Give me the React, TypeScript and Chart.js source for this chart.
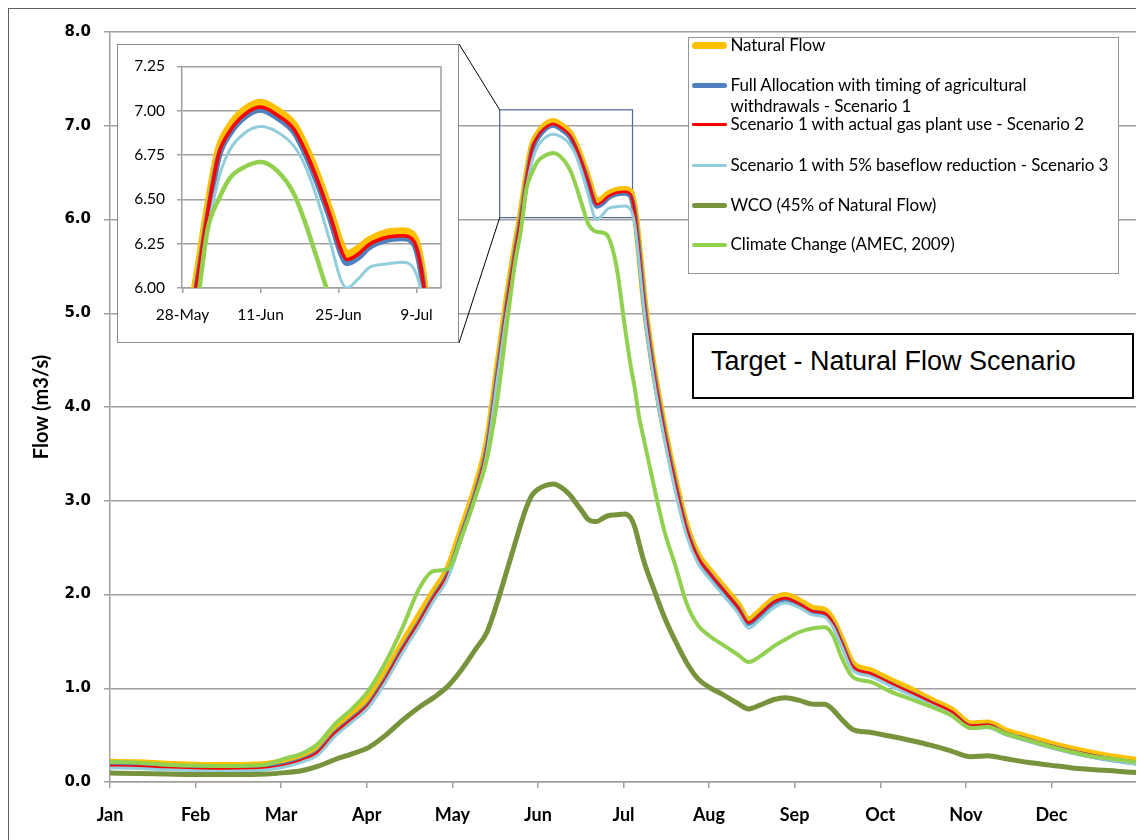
import React, { useEffect, useRef } from "react";
import { Chart, registerables } from "chart.js";

Chart.register(...registerables);

// ---------- DATA ----------
const DAYS = [
  0, 10, 20, 30, 40, 50, 56, 62, 68, 74,
  80, 86, 92, 98, 104, 110, 115, 120, 125, 130,
  134, 138, 141, 144, 146, 148, 150, 152, 154.5, 157.5,
  160.5, 163.5, 165.5, 167.5, 170, 172, 173, 175, 177, 180,
  183, 185, 186.5, 188, 190, 193, 197, 201, 205, 209,
  213, 218, 223, 227, 231, 236, 240, 245, 250, 254,
  257, 260, 264, 270, 277, 285, 292, 299, 306, 312,
  318, 326, 334, 342, 350, 358, 365,
];

const NATURAL = [
  0.21, 0.205, 0.19, 0.18, 0.175, 0.18, 0.19, 0.22, 0.27, 0.37,
  0.57, 0.72, 0.89, 1.16, 1.48, 1.78, 2.03, 2.27, 2.7, 3.15,
  3.62, 4.48, 5.13, 5.7, 6.05, 6.45, 6.78, 6.91, 7.0, 7.045,
  7.0, 6.92, 6.8, 6.65, 6.43, 6.24, 6.19, 6.22, 6.27, 6.31,
  6.32, 6.29, 6.1, 5.7, 5.1, 4.45, 3.77, 3.2, 2.72, 2.42,
  2.26, 2.08, 1.9, 1.73, 1.82, 1.95, 1.99, 1.93, 1.85, 1.83,
  1.72, 1.52, 1.26, 1.19, 1.09, 0.98, 0.87, 0.77, 0.62, 0.63,
  0.55, 0.48, 0.41, 0.35, 0.3, 0.26, 0.23,
];

const SCENARIO1 = [
  0.17, 0.165, 0.15, 0.14, 0.135, 0.14, 0.15, 0.18, 0.23, 0.32,
  0.52, 0.67, 0.83, 1.1, 1.42, 1.71, 1.97, 2.21, 2.64, 3.09,
  3.56, 4.42, 5.07, 5.65, 6.0, 6.4, 6.74, 6.87, 6.96, 7.005,
  6.96, 6.88, 6.76, 6.61, 6.39, 6.19, 6.14, 6.17, 6.23, 6.27,
  6.28, 6.25, 6.06, 5.66, 5.06, 4.41, 3.73, 3.16, 2.68, 2.38,
  2.22, 2.04, 1.86, 1.69, 1.78, 1.91, 1.95, 1.89, 1.81, 1.79,
  1.68, 1.48, 1.22, 1.15, 1.05, 0.94, 0.84, 0.74, 0.59, 0.6,
  0.52, 0.45, 0.38, 0.32, 0.27, 0.23, 0.2,
];

const SCENARIO2 = [
  0.17, 0.165, 0.15, 0.14, 0.135, 0.14, 0.15, 0.18, 0.23, 0.32,
  0.52, 0.67, 0.83, 1.1, 1.42, 1.71, 1.97, 2.21, 2.64, 3.09,
  3.57, 4.43, 5.08, 5.66, 6.01, 6.42, 6.755, 6.885, 6.975, 7.02,
  6.975, 6.895, 6.775, 6.625, 6.405, 6.21, 6.16, 6.19, 6.245, 6.285,
  6.295, 6.265, 6.075, 5.67, 5.07, 4.42, 3.74, 3.17, 2.69, 2.39,
  2.23, 2.05, 1.87, 1.7, 1.79, 1.92, 1.96, 1.9, 1.82, 1.8,
  1.69, 1.49, 1.23, 1.16, 1.06, 0.95, 0.85, 0.75, 0.6, 0.61,
  0.53, 0.46, 0.39, 0.33, 0.28, 0.24, 0.21,
];

const SCENARIO3 = [
  0.15, 0.145, 0.13, 0.12, 0.115, 0.12, 0.13, 0.16, 0.21, 0.29,
  0.49, 0.64, 0.8, 1.07, 1.38, 1.67, 1.93, 2.17, 2.6, 3.05,
  3.52, 4.37, 5.0, 5.52, 5.88, 6.32, 6.62, 6.78, 6.87, 6.91,
  6.88, 6.8, 6.69, 6.52, 6.26, 6.04, 6.0, 6.05, 6.115, 6.135,
  6.145, 6.11, 5.95, 5.55, 4.98, 4.34, 3.66, 3.09, 2.62, 2.33,
  2.17, 1.99, 1.81, 1.64, 1.73, 1.86, 1.91, 1.86, 1.78, 1.76,
  1.65, 1.45, 1.19, 1.13, 1.03, 0.92, 0.82, 0.72, 0.57, 0.58,
  0.51, 0.44, 0.37, 0.31, 0.26, 0.22, 0.19,
];

const WCO = [
  0.095, 0.09, 0.085, 0.08, 0.08, 0.08, 0.085, 0.1, 0.12, 0.17,
  0.24, 0.3, 0.37, 0.5, 0.66, 0.8, 0.9, 1.02, 1.2, 1.42,
  1.6, 1.95, 2.25, 2.55, 2.75, 2.93, 3.06, 3.12, 3.16, 3.18,
  3.14, 3.06, 2.98, 2.9, 2.8, 2.78, 2.78, 2.81, 2.84, 2.85,
  2.86, 2.82, 2.72, 2.55, 2.33, 2.08, 1.76, 1.5, 1.27, 1.1,
  1.01, 0.93, 0.84, 0.78, 0.82, 0.88, 0.9, 0.87, 0.83, 0.83,
  0.77, 0.67, 0.56, 0.53, 0.49, 0.44, 0.39, 0.33, 0.27, 0.28,
  0.25, 0.21, 0.18, 0.15, 0.13, 0.115, 0.1,
];

const CLIMATE = [
  0.215, 0.205, 0.185, 0.175, 0.17, 0.175, 0.19, 0.25, 0.3, 0.41,
  0.62, 0.78, 0.98, 1.28, 1.65, 2.07, 2.25, 2.27, 2.62, 3.05,
  3.45, 4.15, 4.87, 5.55, 5.88, 6.33, 6.5, 6.62, 6.68, 6.71,
  6.66, 6.53, 6.37, 6.18, 5.95, 5.88, 5.87, 5.86, 5.82, 5.5,
  4.85, 4.45, 4.2, 3.9, 3.62, 3.2, 2.68, 2.3, 1.9, 1.67,
  1.56, 1.46, 1.36, 1.28, 1.34, 1.45, 1.52, 1.6, 1.64, 1.65,
  1.56, 1.33, 1.12, 1.07, 0.97, 0.88, 0.8, 0.71, 0.575, 0.59,
  0.52, 0.45, 0.38, 0.32, 0.27, 0.24, 0.21,
];

const MONTHS = ["Jan", "Feb", "Mar", "Apr", "May", "Jun", "Jul", "Aug", "Sep", "Oct", "Nov", "Dec"];
const MONTH_TICKS = [0, 30.4, 60.8, 91.25, 121.7, 152.1, 182.5, 212.9, 243.3, 273.75, 304.2, 334.6];
const Y_TICKS = [0, 1, 2, 3, 4, 5, 6, 7, 8];

const INSET_X_TICKS = [143.5, 157.5, 171.5, 185.5];
const INSET_X_LABELS = ["28-May", "11-Jun", "25-Jun", "9-Jul"];
const INSET_Y_TICKS = [6.0, 6.25, 6.5, 6.75, 7.0, 7.25];

const ZOOM_X = [138.5, 185.7];
const ZOOM_Y = [6.02, 7.17];

const LABELS = [
  "Natural Flow",
  "Full Allocation with timing of agricultural\nwithdrawals - Scenario 1",
  "Scenario 1 with actual gas plant use - Scenario 2",
  "Scenario 1 with 5% baseflow reduction - Scenario 3",
  "WCO (45% of Natural Flow)",
  "Climate Change (AMEC, 2009)",
];
const VALUES = [NATURAL, SCENARIO1, SCENARIO2, SCENARIO3, WCO, CLIMATE];

// ---------- STYLE ----------
const COLORS = ["#FFC000", "#4F81BD", "#FF0000", "#92CDDC", "#77933C", "#92D050"];
const MAIN_WIDTHS = [7, 5, 2.5, 3, 5, 4];
const INSET_WIDTHS = [8, 6, 3.5, 3, 5, 4.5];
const LEGEND_WIDTHS = [7, 5, 2.5, 3, 5, 4];
const LEGEND_ROWS = [7.2, 47.5, 86.5, 127.2, 167.5, 206.5];

const GRID = "#a0a0a0";
const CAL = "Lato, 'Open Sans', sans-serif";

const MAIN_W = 1136;
const MAIN_H = 832;
const INSET = { left: 109, top: 36, w: 342, h: 299 };

function makeDatasets(widths: number[], clip?: number) {
  return VALUES.map((vals, i) => {
    const ds: any = {
      label: LABELS[i],
      data: DAYS.map((d, j) => ({ x: d, y: vals[j] })),
      borderColor: COLORS[i],
      backgroundColor: COLORS[i],
      borderWidth: widths[i],
      pointRadius: 0,
      pointHoverRadius: 0,
      fill: false,
      cubicInterpolationMode: "monotone",
      borderCapStyle: "round",
      borderJoinStyle: "round",
      order: VALUES.length - i,
    };
    if (clip !== undefined) ds.clip = clip;
    return ds;
  });
}

const mainDecor = {
  id: "mainDecor",
  beforeDatasetsDraw(chart: any) {
    const { ctx, chartArea, scales } = chart;
    const x = scales.x;
    const y = scales.y;
    ctx.save();
    ctx.strokeStyle = GRID;
    ctx.lineWidth = 1.5;
    ctx.beginPath();
    ctx.moveTo(chartArea.right, chartArea.top);
    ctx.lineTo(chartArea.right, chartArea.bottom);
    ctx.stroke();

    const x0 = x.getPixelForValue(ZOOM_X[0]);
    const x1 = x.getPixelForValue(ZOOM_X[1]);
    const yTop = y.getPixelForValue(ZOOM_Y[1]);
    const yBot = y.getPixelForValue(ZOOM_Y[0]);
    ctx.strokeStyle = "#4f6d9a";
    ctx.lineWidth = 1.25;
    ctx.strokeRect(x0, yTop, x1 - x0, yBot - yTop);

    ctx.strokeStyle = "#000";
    ctx.lineWidth = 1;
    ctx.beginPath();
    ctx.moveTo(INSET.left + INSET.w, INSET.top);
    ctx.lineTo(x0, yTop);
    ctx.moveTo(INSET.left + INSET.w, INSET.top + INSET.h);
    ctx.lineTo(x0, yBot);
    ctx.stroke();
    ctx.restore();
  },
};

const insetDecor = {
  id: "insetDecor",
  beforeDatasetsDraw(chart: any) {
    const { ctx, chartArea } = chart;
    ctx.save();
    ctx.strokeStyle = GRID;
    ctx.lineWidth = 1.5;
    ctx.beginPath();
    ctx.moveTo(chartArea.right, chartArea.top);
    ctx.lineTo(chartArea.right, chartArea.bottom);
    ctx.stroke();
    ctx.restore();
  },
};

export default function App() {
  const mainRef = useRef<HTMLCanvasElement | null>(null);
  const insetRef = useRef<HTMLCanvasElement | null>(null);

  useEffect(() => {
    document.documentElement.style.overflow = "hidden";
    document.body.style.overflow = "hidden";

    const main = new Chart(mainRef.current as HTMLCanvasElement, {
      type: "line",
      data: { datasets: makeDatasets(MAIN_WIDTHS) },
      options: {
        responsive: false,
        maintainAspectRatio: false,
        animation: false,
        events: [],
        layout: { padding: { left: 0, top: 24, right: 7, bottom: 0 } },
        plugins: { legend: { display: false }, tooltip: { enabled: false }, title: { display: false } },
        scales: {
          x: {
            type: "linear",
            min: 0,
            max: 365,
            afterBuildTicks: (s: any) => {
              s.ticks = MONTH_TICKS.map((v) => ({ value: v }));
            },
            afterFit: (s: any) => {
              s.height = 58;
            },
            ticks: {
              autoSkip: false,
              maxRotation: 0,
              padding: 16,
              color: "#000",
              font: { family: CAL, size: 18, weight: "bold" },
              callback: (_v: any, i: number) => MONTHS[i],
            },
            grid: { drawOnChartArea: false, drawTicks: true, tickLength: 6, color: GRID, lineWidth: 1.5 },
            border: { display: true, color: GRID, width: 1.5 },
          },
          y: {
            type: "linear",
            min: 0,
            max: 8,
            afterBuildTicks: (s: any) => {
              s.ticks = Y_TICKS.map((v) => ({ value: v }));
            },
            afterFit: (s: any) => {
              s.width = 102;
            },
            ticks: {
              padding: 13,
              color: "#000",
              font: { family: "'DejaVu Sans', Verdana, sans-serif", size: 15, weight: "bold" },
              callback: (v: any) => Number(v).toFixed(1),
            },
            grid: { color: GRID, lineWidth: 1.5, tickLength: 6 },
            border: { display: true, color: GRID, width: 1.5 },
            title: {
              display: true,
              text: "Flow (m3/s)",
              color: "#000",
              font: { family: CAL, size: 20, weight: "bold" },
              padding: { top: 21.5, bottom: 0 },
            },
          },
        },
      } as any,
      plugins: [mainDecor],
    });

    const inset = new Chart(insetRef.current as HTMLCanvasElement, {
      type: "line",
      data: { datasets: makeDatasets(INSET_WIDTHS, 0) },
      options: {
        responsive: false,
        maintainAspectRatio: false,
        animation: false,
        events: [],
        layout: { padding: { left: 0, top: 18, right: 17, bottom: 0 } },
        plugins: { legend: { display: false }, tooltip: { enabled: false }, title: { display: false } },
        scales: {
          x: {
            type: "linear",
            min: 143.4,
            max: 189.9,
            afterBuildTicks: (s: any) => {
              s.ticks = INSET_X_TICKS.map((v) => ({ value: v }));
            },
            afterFit: (s: any) => {
              s.height = 54;
            },
            ticks: {
              autoSkip: false,
              maxRotation: 0,
              padding: 13,
              color: "#000",
              font: { family: CAL, size: 15.5 },
              callback: (_v: any, i: number) => INSET_X_LABELS[i],
            },
            grid: { drawOnChartArea: false, drawTicks: true, tickLength: 5, color: GRID, lineWidth: 1.5 },
            border: { display: true, color: GRID, width: 1.5 },
          },
          y: {
            type: "linear",
            min: 6.0,
            max: 7.25,
            afterBuildTicks: (s: any) => {
              s.ticks = INSET_Y_TICKS.map((v) => ({ value: v }));
            },
            afterFit: (s: any) => {
              s.width = 64;
            },
            ticks: {
              padding: 12,
              color: "#000",
              font: { family: CAL, size: 15.5 },
              callback: (v: any) => Number(v).toFixed(2),
            },
            grid: { color: GRID, lineWidth: 1.5, tickLength: 5 },
            border: { display: true, color: GRID, width: 1.5 },
          },
        },
      } as any,
      plugins: [insetDecor],
    });

    return () => {
      main.destroy();
      inset.destroy();
    };
  }, []);

  return (
    <div
      style={{
        position: "relative",
        width: MAIN_W,
        height: MAIN_H,
        overflow: "hidden",
        background: "#fff",
      }}
    >
      <canvas
        ref={mainRef}
        width={MAIN_W}
        height={MAIN_H}
        style={{ position: "absolute", left: 0, top: 0, width: MAIN_W, height: MAIN_H }}
      />

      {/* Inset */}
      <div
        style={{
          position: "absolute",
          left: INSET.left,
          top: INSET.top,
          width: INSET.w,
          height: INSET.h,
          boxSizing: "border-box",
          border: "1px solid #8a8a8a",
          background: "#fff",
        }}
      >
        <canvas
          ref={insetRef}
          width={INSET.w - 2}
          height={INSET.h - 2}
          style={{ position: "absolute", left: 0, top: 0, width: INSET.w - 2, height: INSET.h - 2 }}
        />
      </div>

      {/* Legend */}
      <div
        style={{
          position: "absolute",
          left: 680,
          top: 29,
          width: 431,
          height: 237,
          boxSizing: "border-box",
          border: "1.5px solid #959595",
          background: "#fff",
          fontFamily: CAL,
          fontSize: 17,
          color: "#000",
        }}
      >
        {LABELS.map((lab, i) => (
          <React.Fragment key={i}>
            <div
              style={{
                position: "absolute",
                left: 2.5,
                top: LEGEND_ROWS[i] - LEGEND_WIDTHS[i] / 2,
                width: 35,
                height: LEGEND_WIDTHS[i],
                borderRadius: LEGEND_WIDTHS[i] / 2,
                background: COLORS[i],
              }}
            />
            <div
              style={{
                position: "absolute",
                left: 41.5,
                top: LEGEND_ROWS[i] - 10.35,
                lineHeight: "20.7px",
                whiteSpace: "pre",
                letterSpacing: "-0.1px",
              }}
            >
              {lab}
            </div>
          </React.Fragment>
        ))}
      </div>

      {/* Title box */}
      <div
        style={{
          position: "absolute",
          left: 684,
          top: 325,
          width: 442,
          height: 66,
          boxSizing: "border-box",
          border: "2px solid #000",
          background: "#fff",
          fontFamily: "'Liberation Sans', Arial, sans-serif",
          fontSize: 27,
          lineHeight: "30px",
          paddingLeft: 17,
          paddingTop: 11,
          color: "#000",
          whiteSpace: "nowrap",
        }}
      >
        Target - Natural Flow Scenario
      </div>

      {/* Outer frame */}
      <div
        style={{
          position: "absolute",
          left: 0,
          top: 0,
          width: MAIN_W + 10,
          height: MAIN_H + 10,
          borderLeft: "1.5px solid #5f5f5f",
          borderTop: "1.5px solid #5f5f5f",
          pointerEvents: "none",
        }}
      />
    </div>
  );
}
